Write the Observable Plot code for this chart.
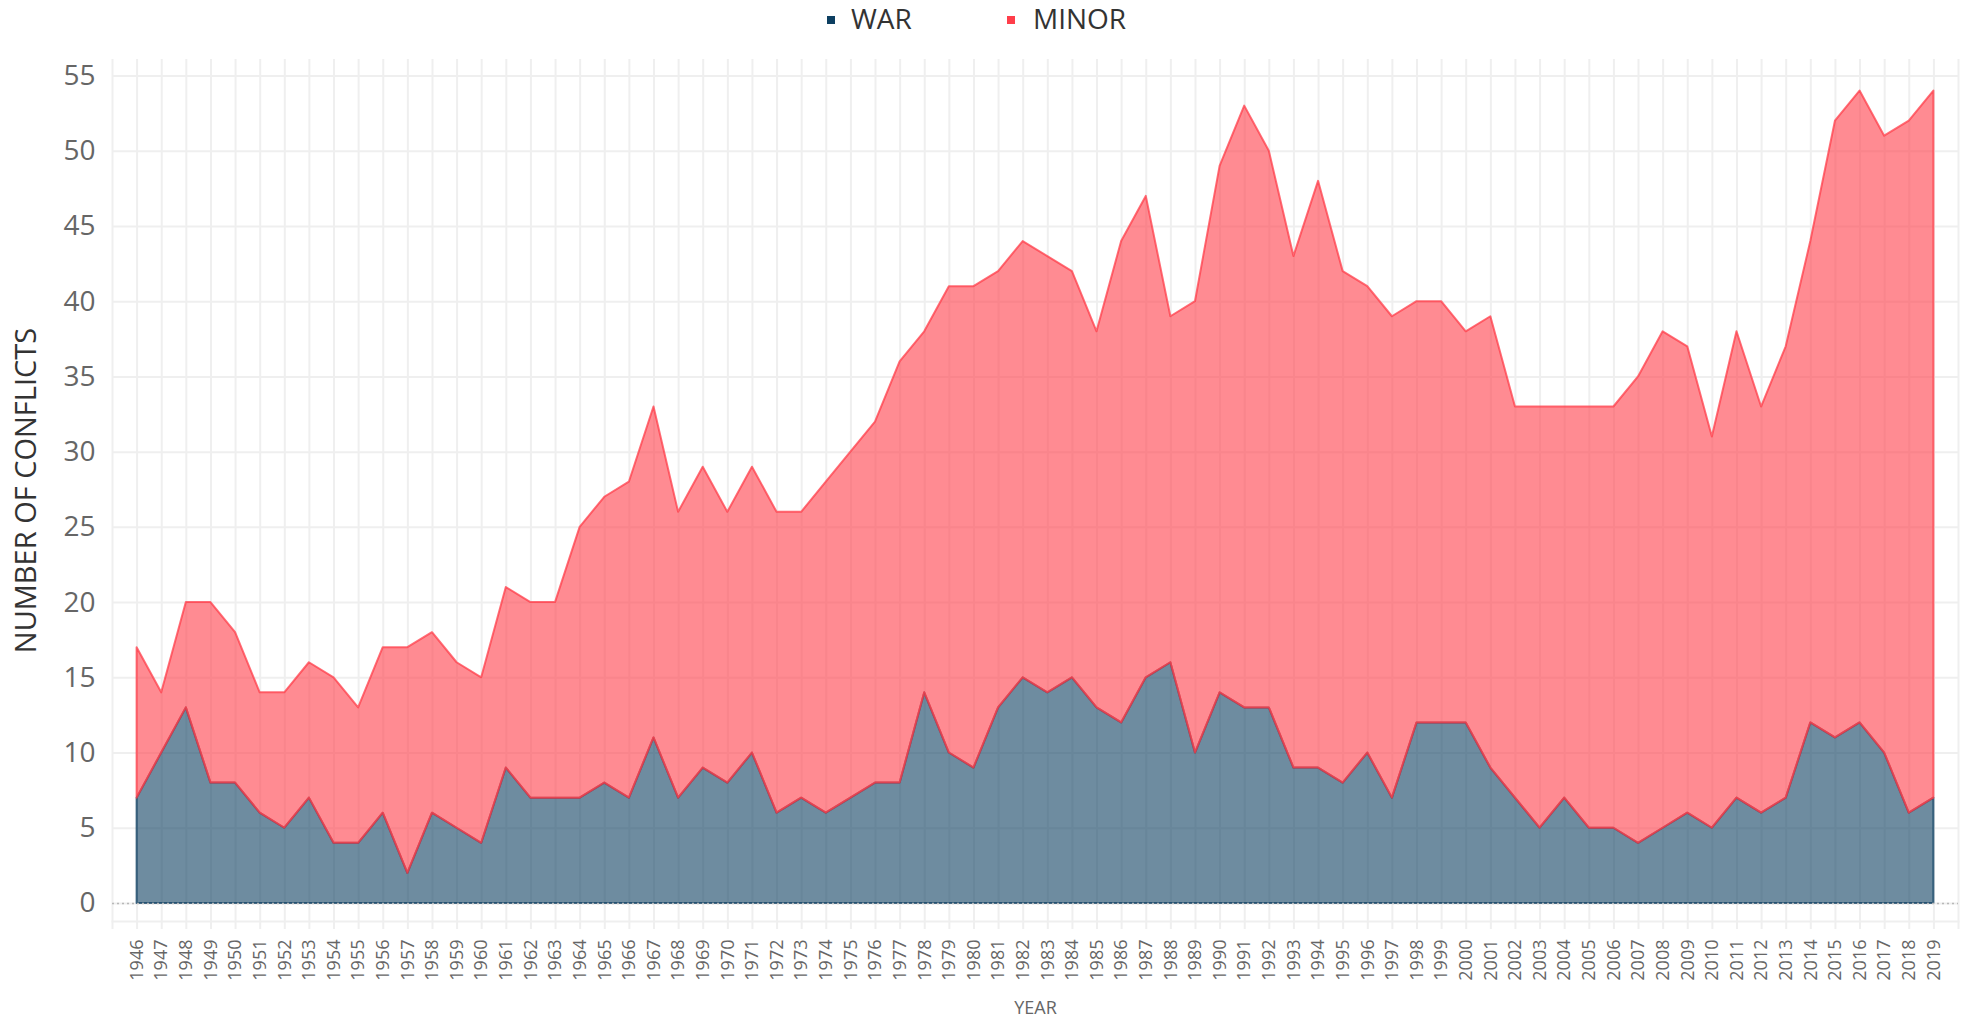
<!DOCTYPE html>
<html>
<head>
<meta charset="utf-8">
<script src="https://cdn.jsdelivr.net/npm/d3@7"></script>
<script src="https://cdn.jsdelivr.net/npm/@observablehq/plot@0.6"></script>
<style>
  html, body { margin: 0; padding: 0; background: #fff; overflow: hidden; }
  #legend { position: relative; height: 40px; width: 1964px; font-family: "Open Sans", sans-serif; font-size: 28px; color: #333; }
  #legend .sw { position: absolute; top: 16px; width: 8px; height: 8px; }
  #legend .lb { position: absolute; top: 4px; line-height: 28px; white-space: nowrap; }
</style>
</head>
<body>
<div id="legend"></div>
<div id="chart"></div>
<script>
// ---- data ----
const years = d3.range(1946, 2020);
const war = [7,10,13,8,8,6,5,7,4,4,6,2,6,5,4,9,7,7,7,8,7,11,7,9,8,10,6,7,6,7,8,8,14,10,9,13,15,14,15,13,12,15,16,10,14,13,13,9,9,8,10,7,12,12,12,9,7,5,7,5,5,4,5,6,5,7,6,7,12,11,12,10,6,7];
const minor = [10,4,7,12,10,8,9,9,11,9,11,15,12,11,11,12,13,13,18,19,21,22,19,20,18,19,20,19,22,23,24,28,24,31,32,29,29,29,27,25,32,32,23,30,35,40,37,34,39,34,31,32,28,28,26,30,26,28,26,28,28,31,33,31,26,31,27,30,32,41,42,41,46,47];
const seriesNames = ["WAR", "MINOR"];
const seriesColors = ["#0d3f61", "#ff3e4a"];
const yTicks = d3.range(0, 56, 5);
const xTicks = d3.range(1945, 2021);

// long table for stacking
const rows = [];
years.forEach((yr, i) => {
  rows.push({year: yr, type: "WAR", count: war[i]});
  rows.push({year: yr, type: "MINOR", count: minor[i]});
});

// ---- legend ----
const legend = document.getElementById("legend");
const legendPos = [[827, 851], [1007, 1033]];
seriesNames.forEach((name, i) => {
  const sw = document.createElement("span");
  sw.className = "sw";
  sw.style.left = legendPos[i][0] + "px";
  sw.style.background = seriesColors[i];
  legend.appendChild(sw);
  const lb = document.createElement("span");
  lb.className = "lb";
  lb.style.left = legendPos[i][1] + "px";
  lb.textContent = name;
  legend.appendChild(lb);
});

// ---- chart ----
const chart = Plot.plot({
  width: 1964,
  height: 979,
  marginTop: 19,
  marginBottom: 98,
  marginLeft: 112,
  marginRight: 6,
  style: {fontFamily: "Open Sans, sans-serif", background: "#fff", overflow: "visible"},
  x: {domain: [1945, 2020]},
  y: {domain: [-1.2, 56.1]},
  color: {domain: seriesNames, range: seriesColors},
  marks: [
    Plot.gridX(xTicks, {stroke: "#efefef", strokeOpacity: 1, strokeWidth: 2}),
    Plot.gridY(yTicks, {stroke: "#efefef", strokeOpacity: 1, strokeWidth: 2}),
    Plot.frame({anchor: "bottom", stroke: "#efefef", strokeWidth: 2}),
    Plot.areaY(rows, {
      x: "year", y: "count", z: "type",
      fill: "type", fillOpacity: 0.6,
      stroke: "type", strokeOpacity: 0.75, strokeWidth: 2,
      strokeLinejoin: "round"
    }),
    Plot.ruleY([0], {stroke: "#b8b8b8", strokeDasharray: "2,3", strokeWidth: 1.5}),
    Plot.axisX({
      ticks: xTicks,
      tickFormat: d => (d >= 1946 && d <= 2019) ? String(d) : "",
      tickRotate: -90,
      tickSize: 8,
      tickPadding: 10,
      fontSize: 18,
      stroke: "#efefef",
      strokeWidth: 2,
      fill: "#666",
      label: "YEAR",
      labelAnchor: "center",
      labelArrow: "none",
      labelOffset: 92
    }),
    Plot.axisY({
      ticks: yTicks,
      tickSize: 0,
      tickPadding: 17,
      fontSize: 28,
      fill: "#666",
      label: null
    }),
    Plot.axisY({
      ticks: [],
      tickSize: 0,
      fontSize: 29,
      fill: "#333",
      label: "NUMBER OF CONFLICTS",
      labelAnchor: "center",
      labelArrow: "none",
      labelOffset: 97
    })
  ]
});
document.getElementById("chart").appendChild(chart);
</script>
</body>
</html>
